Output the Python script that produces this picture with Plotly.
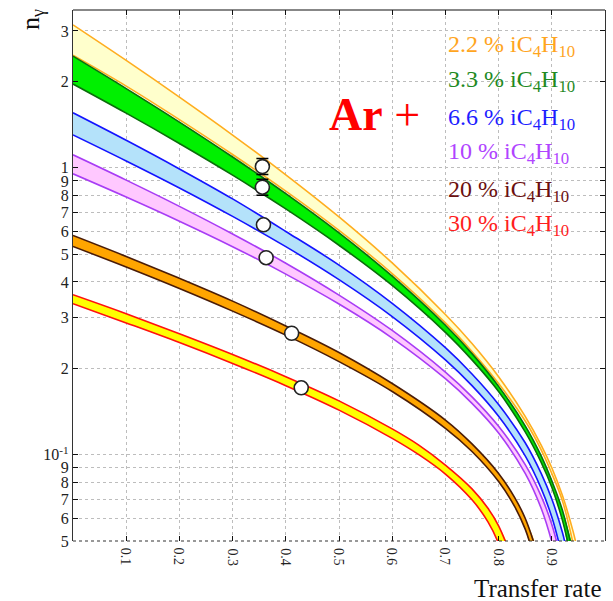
import plotly.graph_objects as go

# ---- model bands: n_gamma vs transfer rate for Ar + iC4H10 mixtures ----
# 2.2 % iC4H10
x_22_hi = [0, 0.1, 0.2, 0.3, 0.4, 0.5, 0.6, 0.7, 0.75, 0.8, 0.85, 0.88, 0.9, 0.92, 0.94, 0.95]
n_22_hi = [3.15, 2.368, 1.764, 1.301, 0.945, 0.674, 0.466, 0.308, 0.244, 0.187, 0.136, 0.108, 0.090, 0.072, 0.054, 0.045]
x_22_lo = [0, 0.1, 0.2, 0.3, 0.4, 0.5, 0.6, 0.7, 0.75, 0.8, 0.85, 0.88, 0.9, 0.92, 0.94]
n_22_lo = [2.47, 1.927, 1.473, 1.113, 0.829, 0.605, 0.428, 0.288, 0.229, 0.177, 0.131, 0.104, 0.086, 0.069, 0.049]

# 3.3 % iC4H10
x_33_hi = [0, 0.1, 0.2, 0.3, 0.4, 0.5, 0.6, 0.7, 0.75, 0.8, 0.85, 0.88, 0.9, 0.92, 0.94]
n_33_hi = [2.45, 1.889, 1.444, 1.091, 0.8125, 0.593, 0.419, 0.2825, 0.225, 0.173, 0.126, 0.099, 0.081, 0.064, 0.045]
x_33_lo = [0, 0.1, 0.2, 0.3, 0.4, 0.5, 0.6, 0.7, 0.75, 0.8, 0.85, 0.88, 0.9, 0.92, 0.935]
n_33_lo = [1.96, 1.551, 1.216, 0.943, 0.719, 0.537, 0.389, 0.267, 0.214, 0.166, 0.120, 0.094, 0.077, 0.059, 0.045]

# 6.6 % iC4H10
x_66_hi = [0, 0.1, 0.2, 0.3, 0.4, 0.5, 0.6, 0.7, 0.75, 0.8, 0.85, 0.88, 0.9, 0.92, 0.93]
n_66_hi = [1.555, 1.247, 0.991, 0.779, 0.600, 0.458, 0.337, 0.236, 0.191, 0.1495, 0.110, 0.086, 0.070, 0.0535, 0.0446]
x_66_lo = [0, 0.1, 0.2, 0.3, 0.4, 0.5, 0.6, 0.7, 0.75, 0.8, 0.85, 0.88, 0.9, 0.915]
n_66_lo = [1.303, 1.057, 0.851, 0.677, 0.531, 0.4075, 0.303, 0.214, 0.174, 0.136, 0.099, 0.0763, 0.0606, 0.048]

# 10 % iC4H10
x_10_hi = [0, 0.1, 0.2, 0.3, 0.4, 0.5, 0.6, 0.7, 0.75, 0.8, 0.85, 0.88, 0.9, 0.915]
n_10_hi = [1.11, 0.906, 0.734, 0.588, 0.465, 0.360, 0.271, 0.194, 0.159, 0.1255, 0.0923, 0.0717, 0.0571, 0.045]
x_10_lo = [0, 0.1, 0.2, 0.3, 0.4, 0.5, 0.6, 0.7, 0.75, 0.8, 0.85, 0.88, 0.9, 0.91]
n_10_lo = [0.953, 0.791, 0.6515, 0.531, 0.426, 0.335, 0.255, 0.184, 0.151, 0.119, 0.086, 0.065, 0.0496, 0.041]

# 20 % iC4H10
x_20_hi = [0, 0.1, 0.2, 0.3, 0.4, 0.5, 0.6, 0.7, 0.75, 0.8, 0.83, 0.85, 0.87]
n_20_hi = [0.581, 0.491, 0.412, 0.343, 0.281, 0.227, 0.177, 0.132, 0.109, 0.086, 0.071, 0.060, 0.047]
x_20_lo = [0, 0.1, 0.2, 0.3, 0.4, 0.5, 0.6, 0.7, 0.75, 0.8, 0.83, 0.85, 0.865]
n_20_lo = [0.532, 0.451, 0.3795, 0.3165, 0.261, 0.211, 0.166, 0.1236, 0.1026, 0.0806, 0.066, 0.055, 0.045]

# 30 % iC4H10
x_30_hi = [0, 0.1, 0.2, 0.3, 0.4, 0.5, 0.6, 0.65, 0.7, 0.75, 0.78, 0.8, 0.82]
n_30_hi = [0.361, 0.310, 0.264, 0.2235, 0.187, 0.154, 0.123, 0.108, 0.092, 0.076, 0.065, 0.0565, 0.046]
x_30_lo = [0, 0.1, 0.2, 0.3, 0.4, 0.5, 0.6, 0.65, 0.7, 0.75, 0.78, 0.8, 0.81]
n_30_lo = [0.336, 0.288, 0.246, 0.208, 0.174, 0.143, 0.114, 0.100, 0.0856, 0.0696, 0.0583, 0.049, 0.043]

# measured points
x_meas = [0.356, 0.356, 0.358, 0.363, 0.411, 0.429]
n_meas = [1.01, 0.856, 0.633, 0.486, 0.265, 0.171]
x_err = [0.356, 0.356]
n_err = [1.01, 0.856]
err_up = [0.067, 0.057]
err_dn = [0.063, 0.053]

mixtures = ["2.2", "3.3", "6.6", "10", "20", "30"]

# axis ticks
x_ticks = [0.1, 0.2, 0.3, 0.4, 0.5, 0.6, 0.7, 0.8, 0.9]
y_ticks = [0.05, 0.06, 0.07, 0.08, 0.09, 0.1, 0.2, 0.3, 0.4, 0.5, 0.6, 0.7, 0.8, 0.9, 1, 2, 3]
y_tick_text = ["5", "6", "7", "8", "9", "10<sup>-1</sup>", "2", "3", "4", "5", "6", "7", "8", "9", "1", "2", "3"]

bands = [
    (x_22_hi, n_22_hi, x_22_lo, n_22_lo, "#ffffcc", "#ffad1f"),
    (x_33_hi, n_33_hi, x_33_lo, n_33_lo, "#00f000", "#0a6e0a"),
    (x_66_hi, n_66_hi, x_66_lo, n_66_lo, "#b4e2fa", "#1414ff"),
    (x_10_hi, n_10_hi, x_10_lo, n_10_lo, "#ffc8ff", "#a83cf5"),
    (x_20_hi, n_20_hi, x_20_lo, n_20_lo, "#ffa500", "#4a1c08"),
    (x_30_hi, n_30_hi, x_30_lo, n_30_lo, "#ffff00", "#ff1010"),
]
label_colors = ["#ffa51e", "#1f8a1f", "#1e1eff", "#b044ff", "#6b1010", "#ff1e1e"]

fig = go.Figure()

for xh, nh, xl, nl, fill_c, line_c in bands:
    fig.add_trace(go.Scatter(
        x=xh + xl[::-1], y=nh + nl[::-1], mode="lines", fill="toself",
        fillcolor=fill_c, line=dict(width=0, shape="spline"),
        hoverinfo="skip", showlegend=False))
    for xx, nn in ((xh, nh), (xl, nl)):
        fig.add_trace(go.Scatter(
            x=xx, y=nn, mode="lines",
            line=dict(color=line_c, width=1.6, shape="spline"),
            hoverinfo="skip", showlegend=False))

fig.add_trace(go.Scatter(
    x=x_err, y=n_err, mode="markers", marker=dict(size=1, color="black"),
    error_y=dict(type="data", symmetric=False, array=err_up, arrayminus=err_dn,
                 color="black", thickness=1.5, width=6),
    showlegend=False, hoverinfo="skip"))

fig.add_trace(go.Scatter(
    x=x_meas, y=n_meas, mode="markers",
    marker=dict(symbol="circle", size=14, color="white",
                line=dict(color="#222222", width=1.6)),
    showlegend=False))

# plot frame: l=73, r=8, t=10, b=60 -> data area 532 x 531 px
L, T, W, H = 73, 10, 532, 531


def px(xp):
    return (xp - L) / W


def py(yp):
    return (T + H - yp) / H


serif = "Liberation Serif"
annotations = []

# x tick labels, turned to read from top to bottom
for v in x_ticks:
    annotations.append(dict(
        text=str(v), x=v, y=py(T + H + 5), xref="x", yref="paper",
        xanchor="center", yanchor="top", textangle=90, showarrow=False,
        font=dict(family=serif, size=14, color="#222222")))

label_y = [46, 81, 118.5, 152.5, 190.5, 225]
for mix, col, yp in zip(mixtures, label_colors, label_y):
    annotations.append(dict(
        text=f"{mix} % iC<sub>4</sub>H<sub>10</sub>", x=px(446), y=py(yp),
        xref="paper", yref="paper", xanchor="left", yanchor="middle",
        showarrow=False, font=dict(family=serif, size=24, color=col)))

annotations.append(dict(
    text="<b>Ar</b> +", x=px(374), y=py(115), xref="paper", yref="paper",
    xanchor="center", yanchor="middle", showarrow=False,
    font=dict(family=serif, size=46, color="#ff0000")))
annotations.append(dict(
    text="n<sub>γ</sub>", x=px(32), y=py(20), xref="paper", yref="paper",
    xanchor="center", yanchor="middle", textangle=-90, showarrow=False,
    font=dict(family=serif, size=26, color="#111111")))
annotations.append(dict(
    text="Transfer rate", x=px(604), y=py(588), xref="paper", yref="paper",
    xanchor="right", yanchor="middle", showarrow=False,
    font=dict(family=serif, size=25, color="#111111")))
annotations.append(dict(
    text="Transfer rate", x=px(614), y=py(-10), xref="paper", yref="paper",
    xanchor="right", yanchor="middle", showarrow=False,
    font=dict(family=serif, size=25, color="#777777")))

shapes = [
    dict(type="line", xref="paper", yref="paper", x0=0, x1=1, y0=1, y1=1,
         line=dict(color="#111111", width=1.2)),
    dict(type="line", xref="paper", yref="paper", x0=0, x1=1, y0=0, y1=0,
         line=dict(color="#333333", width=1.2, dash="dot")),
]

fig.update_layout(
    width=613, height=601,
    margin=dict(l=L, r=613 - L - W, t=T, b=601 - T - H, pad=0),
    paper_bgcolor="white", plot_bgcolor="white",
    font=dict(family=serif, color="#222222"),
    annotations=annotations, shapes=shapes,
    xaxis=dict(range=[0, 1], tickvals=x_ticks, showticklabels=False,
               ticks="inside", ticklen=5, tickcolor="#111111",
               showline=False, mirror="ticks", zeroline=False,
               showgrid=True, gridcolor="#bdbdbd", griddash="dot", gridwidth=1),
    yaxis=dict(type="log", range=[-1.30103, 0.5502], tickvals=y_ticks,
               ticktext=y_tick_text, ticks="inside", ticklen=5, tickcolor="#111111",
               showline=True, linecolor="#333333", linewidth=1.2, mirror="ticks",
               zeroline=False, showgrid=True, gridcolor="#bdbdbd", griddash="dot",
               gridwidth=1, tickfont=dict(family=serif, size=16, color="#222222")),
)

fig.write_html("out.html")
